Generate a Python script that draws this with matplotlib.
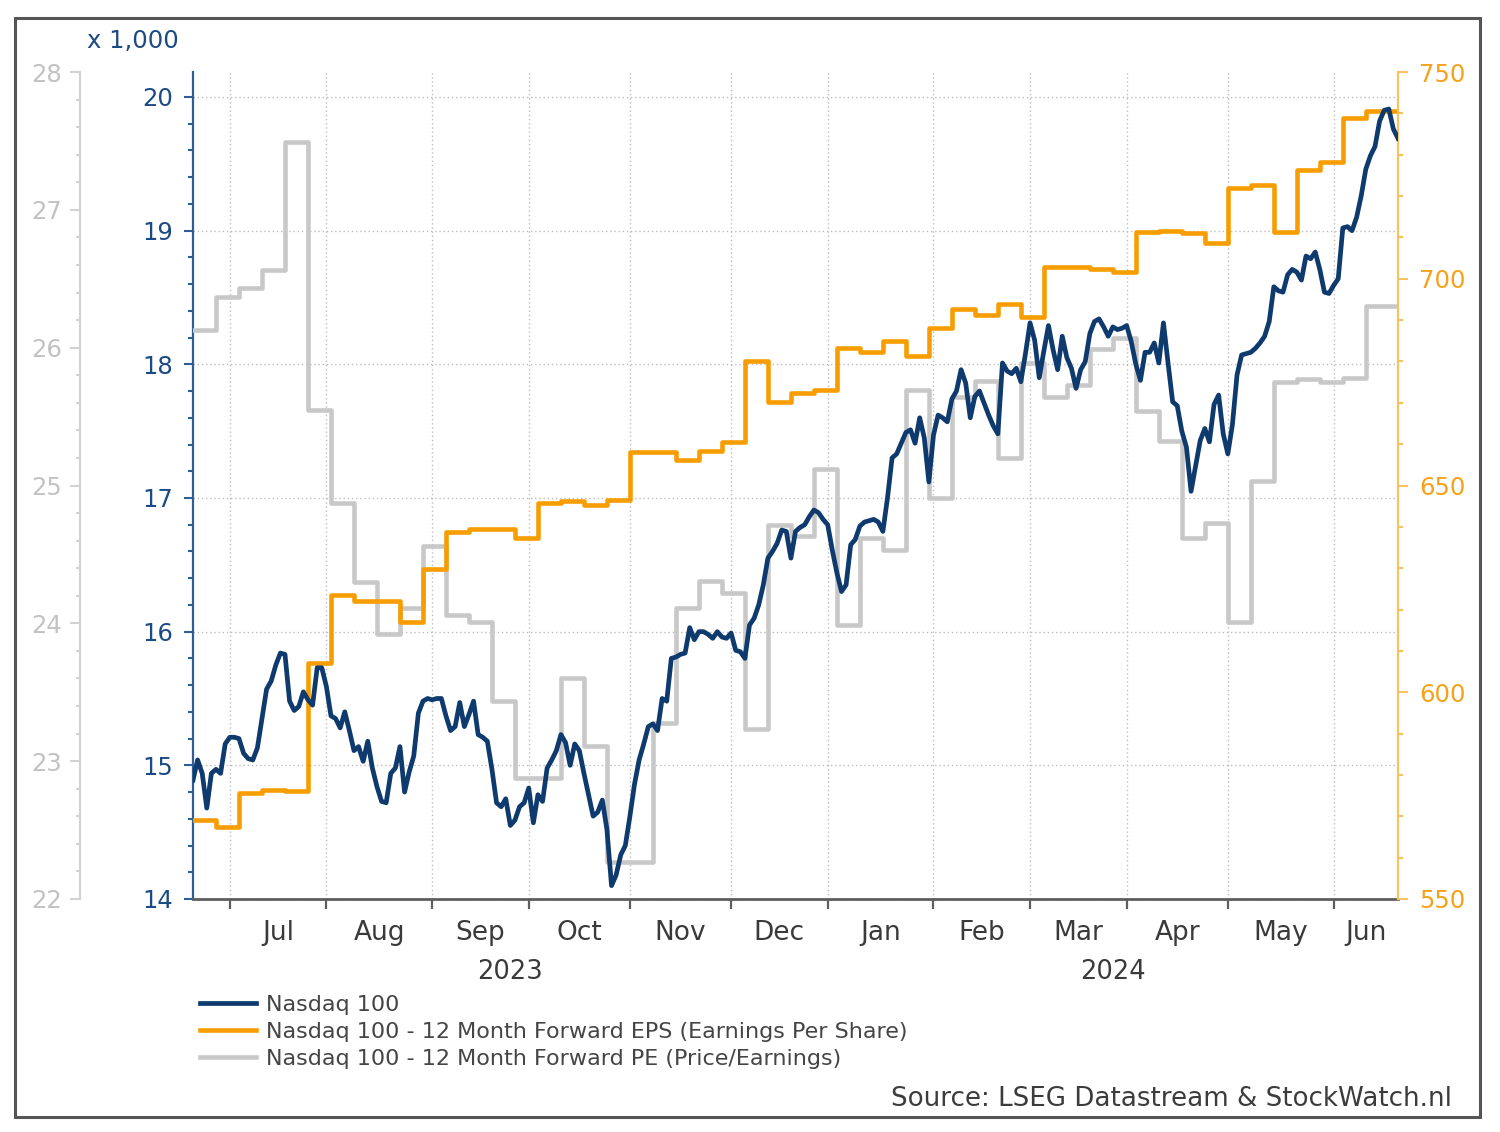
import numpy as np
import pandas as pd
import matplotlib
matplotlib.use("Agg")
import matplotlib.pyplot as plt
from matplotlib.ticker import MultipleLocator, FixedLocator, NullFormatter, FixedFormatter
from matplotlib.patches import Rectangle

# ---------------- data ----------------
start_date = "2023-06-21"
end_date = "2024-06-21"

# Nasdaq 100 (x 1,000), one value per weekday
ndx_values = [
    14.89, 15.04, 14.94, 14.68, 14.94, 14.97, 14.94, 15.16, 15.21, 15.21,
    15.20, 15.09, 15.05, 15.04, 15.13, 15.35, 15.57, 15.63, 15.75, 15.84,
    15.83, 15.48, 15.41, 15.44, 15.55, 15.49, 15.45, 15.73, 15.73, 15.59,
    15.37, 15.35, 15.28, 15.40, 15.26, 15.11, 15.14, 15.03, 15.18, 14.98,
    14.84, 14.73, 14.72, 14.94, 14.98, 15.14, 14.80, 14.95, 15.07, 15.39,
    15.48, 15.50, 15.49, 15.50, 15.50, 15.37, 15.26, 15.29, 15.47, 15.29,
    15.38, 15.48, 15.23, 15.21, 15.18, 14.97, 14.72, 14.69, 14.75, 14.55,
    14.59, 14.69, 14.72, 14.83, 14.57, 14.78, 14.73, 14.98, 15.04, 15.11,
    15.23, 15.17, 15.00, 15.16, 15.11, 14.94, 14.78, 14.62, 14.65, 14.74,
    14.52, 14.10, 14.18, 14.33, 14.40, 14.62, 14.86, 15.04, 15.16, 15.29,
    15.31, 15.26, 15.50, 15.48, 15.80, 15.81, 15.83, 15.84, 16.03, 15.94,
    16.00, 16.00, 15.98, 15.95, 16.00, 15.96, 15.95, 15.99, 15.86, 15.85,
    15.80, 16.05, 16.10, 16.20, 16.35, 16.55, 16.60, 16.66, 16.76, 16.75,
    16.55, 16.75, 16.78, 16.80, 16.86, 16.91, 16.89, 16.84, 16.80, 16.61,
    16.44, 16.30, 16.35, 16.65, 16.69, 16.79, 16.82, 16.83, 16.84, 16.82,
    16.75, 17.00, 17.30, 17.33, 17.41, 17.49, 17.51, 17.41, 17.60, 17.45,
    17.12, 17.47, 17.62, 17.60, 17.57, 17.74, 17.80, 17.96, 17.86, 17.60,
    17.76, 17.80, 17.71, 17.62, 17.54, 17.48, 18.01, 17.95, 17.93, 17.97,
    17.87, 18.08, 18.31, 18.18, 17.90, 18.10, 18.29, 18.11, 17.96, 18.21,
    18.05, 17.97, 17.82, 17.96, 18.02, 18.23, 18.32, 18.34, 18.28, 18.21,
    18.28, 18.26, 18.27, 18.29, 18.17, 18.00, 17.88, 18.09, 18.09, 18.16,
    18.01, 18.31, 18.01, 17.72, 17.69, 17.50, 17.38, 17.05, 17.24, 17.43,
    17.52, 17.42, 17.70, 17.77, 17.48, 17.33, 17.55, 17.92, 18.07, 18.08,
    18.09, 18.12, 18.16, 18.21, 18.32, 18.58, 18.55, 18.54, 18.67, 18.71,
    18.69, 18.63, 18.81, 18.79, 18.84, 18.71, 18.54, 18.53, 18.59, 18.64,
    19.02, 19.03, 19.00, 19.10, 19.26, 19.46, 19.56, 19.63, 19.82, 19.90,
    19.91, 19.76, 19.69,
]

# 12-month forward EPS, weekly values
eps_weekly = [
    569.1, 567.5, 575.6, 576.4, 576.0, 607.0, 623.5, 622.0, 622.0, 617.0,
    629.7, 638.8, 639.6, 639.6, 637.2, 645.8, 646.3, 645.3, 646.5, 658.2,
    658.2, 656.2, 658.4, 660.6, 680.0, 670.3, 672.4, 673.1, 683.2, 682.4,
    685.0, 681.3, 688.0, 692.8, 691.2, 693.8, 690.8, 702.9, 702.9, 702.4,
    701.7, 711.2, 711.5, 711.0, 708.7, 721.9, 722.7, 711.4, 726.3, 728.3,
    738.8, 740.6, 740.6,
]

# 12-month forward PE, weekly values
pe_weekly = [
    26.13, 26.37, 26.43, 26.56, 27.49, 25.55, 24.87, 24.30, 23.92, 24.11,
    24.56, 24.06, 24.01, 23.44, 22.88, 22.88, 23.60, 23.11, 22.27, 22.27,
    23.28, 24.11, 24.31, 24.22, 23.23, 24.71, 24.63, 25.12, 23.99, 24.62,
    24.53, 25.69, 24.91, 25.64, 25.76, 25.20, 25.89, 25.64, 25.73, 25.99,
    26.07, 25.54, 25.32, 24.62, 24.73, 24.01, 25.03, 25.75, 25.77, 25.75,
    25.78, 26.30, 26.30,
]

labels = [
    "Nasdaq 100",
    "Nasdaq 100 - 12 Month Forward EPS (Earnings Per Share)",
    "Nasdaq 100 - 12 Month Forward PE (Price/Earnings)",
]
source_text = "Source: LSEG Datastream & StockWatch.nl"

# ---------------- styling ----------------
NAVY = "#0e3a6e"
NAVY_AX = "#2d5f96"
NAVY_TXT = "#1c4a82"
ORANGE = "#f79d00"
ORANGE_AX = "#f8c262"
ORANGE_TXT = "#f5a21a"
GRAY = "#c8c8c8"
GRAY_AX = "#d2d2d2"
GRAY_TXT = "#c2c2c2"
DARK = "#5e5e5e"
FS = 17.5

W, H = 1500, 1132
fig = plt.figure(figsize=(W / 100, H / 100), dpi=100)
fig.patch.set_facecolor("white")

L, R, T, B = 193, 1398, 72, 899
ax = fig.add_axes([L / W, (H - B) / H, (R - L) / W, (B - T) / H])

days = pd.bdate_range(start_date, end_date)
n = len(days)
xd = np.arange(n)
xw = np.arange(0, n, 5)
xw_step = np.append(xw, n - 1)
pe_step = np.append(pe_weekly, pe_weekly[-1])
eps_step = np.append(eps_weekly, eps_weekly[-1])

# navy scale (base axes: spine, ticks, grid)
ax.set_xlim(0, n - 1)
ax.set_ylim(14, 14 + (B - T) / 133.67)
ax.yaxis.set_major_locator(MultipleLocator(1))
ax.yaxis.set_minor_locator(MultipleLocator(0.2))
for s in ("top", "right"):
    ax.spines[s].set_visible(False)
ax.spines["left"].set_color(NAVY_AX)
ax.spines["left"].set_linewidth(1.6)
ax.spines["bottom"].set_color(DARK)
ax.spines["bottom"].set_linewidth(2.0)
ax.tick_params(axis="y", which="major", direction="out", length=6.5, width=1.5,
               color=NAVY_AX, labelcolor=NAVY_TXT, labelsize=FS, pad=8)
ax.tick_params(axis="y", which="minor", direction="out", length=3.5, width=1.5,
               color=NAVY_AX)

# months on x
periods = days.to_period("M")
starts = np.flatnonzero(periods[1:] != periods[:-1]) + 1
edges = np.append(starts, n - 1)
centers = (edges[:-1] + edges[1:]) / 2
month_names = [d.strftime("%b") for d in days[starts]]
ax.xaxis.set_major_locator(FixedLocator(starts))
ax.xaxis.set_major_formatter(NullFormatter())
ax.xaxis.set_minor_locator(FixedLocator(centers))
ax.xaxis.set_minor_formatter(FixedFormatter(month_names))
ax.tick_params(axis="x", which="major", direction="out", length=7, width=1.6, color=DARK)
ax.tick_params(axis="x", which="minor", length=0, labelsize=19, labelcolor="#3a3a3a", pad=15)

ax.grid(True, which="major", axis="both", color="#bdbdbd", linestyle=(0, (1, 2)), linewidth=1.0)
ax.set_axisbelow(True)

# year labels
years = days.year
ystarts = np.concatenate([[0], np.flatnonzero(years[1:] != years[:-1]) + 1])
yedges = np.append(ystarts, n - 1)
for k, ys in enumerate(ystarts):
    cx = (yedges[k] + yedges[k + 1]) / 2
    ax.text(cx, -0.088, str(years[ys]), transform=ax.get_xaxis_transform(),
            ha="center", va="center", fontsize=18.5, color="#3a3a3a")

# gray PE axis (outer left)
ax_pe = ax.twinx()
ax_pe.set_ylim(22, 28)
ax_pe.yaxis.tick_left()
ax_pe.spines["left"].set_position(("axes", (80 - L) / (R - L)))
for s in ("top", "right", "bottom"):
    ax_pe.spines[s].set_visible(False)
ax_pe.spines["left"].set_color(GRAY_AX)
ax_pe.spines["left"].set_linewidth(1.6)
ax_pe.yaxis.set_major_locator(MultipleLocator(1))
ax_pe.yaxis.set_minor_locator(MultipleLocator(0.2))
ax_pe.tick_params(axis="y", which="major", direction="out", length=7, width=1.5,
                  color=GRAY_AX, labelcolor=GRAY_TXT, labelsize=FS, pad=6)
ax_pe.tick_params(axis="y", which="minor", direction="out", length=3, width=1.5, color=GRAY_AX)
l_pe, = ax_pe.plot(xw_step, pe_step, drawstyle="steps-post", color=GRAY, lw=3.3)

# orange EPS axis (right)
ax_eps = ax.twinx()
ax_eps.set_ylim(550, 750)
for s in ("top", "left", "bottom"):
    ax_eps.spines[s].set_visible(False)
ax_eps.spines["right"].set_color(ORANGE_AX)
ax_eps.spines["right"].set_linewidth(1.6)
ax_eps.yaxis.set_major_locator(MultipleLocator(50))
ax_eps.yaxis.set_minor_locator(MultipleLocator(10))
ax_eps.tick_params(axis="y", which="major", direction="out", length=7, width=1.5,
                   color=ORANGE_AX, labelcolor=ORANGE_TXT, labelsize=FS, pad=8)
ax_eps.tick_params(axis="y", which="minor", direction="out", length=3.5, width=1.5, color=ORANGE_AX)
l_eps, = ax_eps.plot(xw_step, eps_step, drawstyle="steps-post", color=ORANGE, lw=3.3)

# navy line on top
ax_top = ax.twinx()
ax_top.set_ylim(ax.get_ylim())
ax_top.axis("off")
l_ndx, = ax_top.plot(xd, ndx_values, color=NAVY, lw=3.4, solid_joinstyle="round")

ax.set_zorder(0)
ax_pe.set_zorder(1)
ax_eps.set_zorder(2)
ax_top.set_zorder(3)
for a in (ax_pe, ax_eps, ax_top):
    a.patch.set_visible(False)

# "x 1,000" unit label
fig.text(87 / W, 1 - 41 / H, "x 1,000", ha="left", va="center", fontsize=FS, color=NAVY_TXT)

# legend
leg = fig.legend([l_ndx, l_eps, l_pe], labels, loc="upper left",
                 bbox_to_anchor=(200 / W, 1 - 995 / H), frameon=False, fontsize=16,
                 handlelength=2.5, handletextpad=0.45, labelspacing=0.32,
                 borderpad=0, borderaxespad=0)
for t in leg.get_texts():
    t.set_color("#454545")

# source
fig.text(1452 / W, 1 - 1099 / H, source_text, ha="right", va="center",
         fontsize=18.8, color="#3c3c3c")

# outer frame
fig.add_artist(Rectangle((15 / W, 15 / H), 1465 / W, 1099 / H, transform=fig.transFigure,
                         fill=False, edgecolor="#555555", linewidth=2.2))

fig.savefig("out.png", dpi=100)
